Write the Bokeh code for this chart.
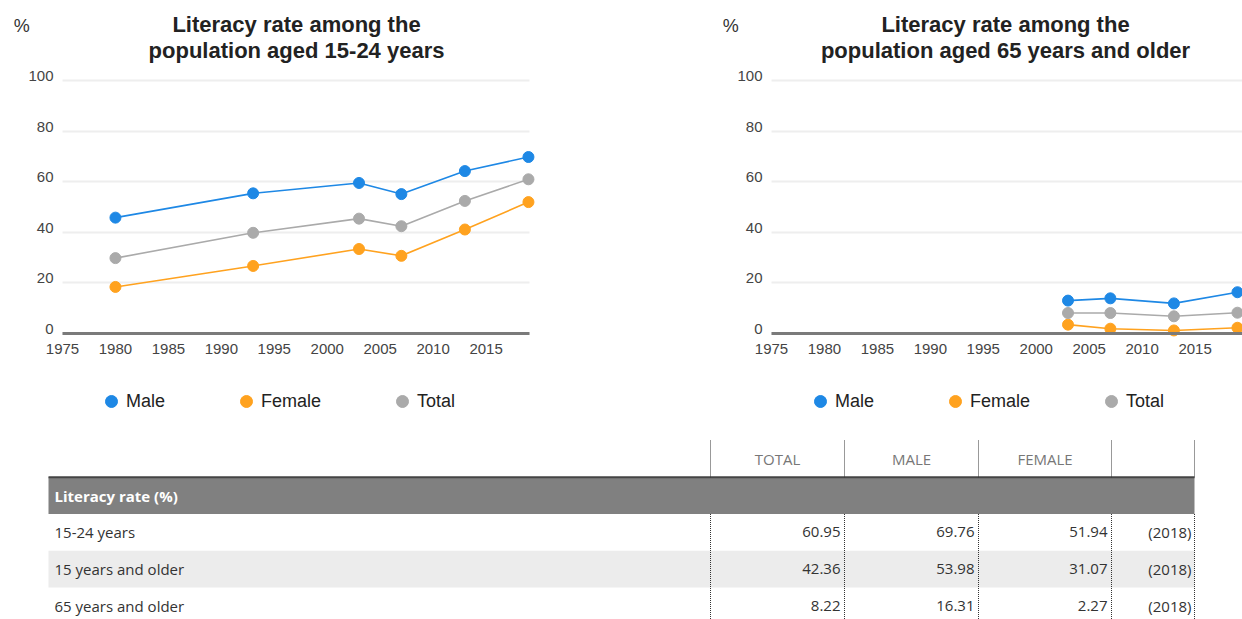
from bokeh.plotting import figure
from bokeh.models import (Range1d, FixedTicker, LinearAxis, Grid, Label, Legend,
                          LegendItem)
from bokeh.layouts import column, row
from bokeh.core.properties import value
from bokeh.embed import file_html
from bokeh.resources import INLINE

# ---------------- data ----------------
years_young = [1980, 1993, 2003, 2007, 2013, 2019]
male_young = [45.8, 55.4, 59.5, 55.1, 64.2, 69.76]
female_young = [18.4, 26.7, 33.4, 30.7, 41.1, 51.94]
total_young = [29.8, 39.8, 45.4, 42.4, 52.4, 60.95]

years_old = [2003, 2007, 2013, 2019]
male_old = [13.0, 13.9, 11.9, 16.31]
female_old = [3.5, 1.9, 1.2, 2.27]
total_old = [8.1, 8.1, 6.8, 8.22]

x_ticks = [1975, 1980, 1985, 1990, 1995, 2000, 2005, 2010, 2015]
y_ticks = [0, 20, 40, 60, 80, 100]
series_names = ["Male", "Female", "Total"]

title_young = ["Literacy rate among the", "population aged 15-24 years"]
title_old = ["Literacy rate among the", "population aged 65 years and older"]

table_title = "Literacy rate (%)"
table_headers = ["TOTAL", "MALE", "FEMALE"]
row_labels = ["15-24 years", "15 years and older", "65 years and older"]
tbl_total = [60.95, 42.36, 8.22]
tbl_male = [69.76, 53.98, 16.31]
tbl_female = [51.94, 31.07, 2.27]
tbl_year = ["(2018)", "(2018)", "(2018)"]

# ---------------- style ----------------
COLORS = ["#1E88E5", "#FFA21F", "#AAAAAA"]
FONT = "Liberation Sans"
PX_PER_YEAR = 467 / 44.1
PX_PER_UNIT = 2.53
FIG_H = 425          # chart figure height (px)
AXIS_PX = 333        # pixel row of the value 0 inside the chart figure
LABEL_SHIFT = 1.8    # y tick labels sit slightly above their grid lines


def make_chart(title_lines, years, series, width, frame_left, plot_end):
    x0 = 1975 - frame_left / PX_PER_YEAR
    x1 = x0 + width / PX_PER_YEAR
    if plot_end is None:
        plot_end = x1
    y0 = -(FIG_H - AXIS_PX) / PX_PER_UNIT
    y1 = AXIS_PX / PX_PER_UNIT
    p = figure(width=width, height=FIG_H,
               x_range=Range1d(x0, x1), y_range=Range1d(y0, y1),
               output_backend="svg", toolbar_location=None,
               x_axis_location=None, y_axis_location=None, min_border=0)
    p.outline_line_color = None
    p.background_fill_color = "white"
    p.border_fill_color = "white"
    p.xgrid.visible = False
    p.ygrid.visible = False

    if "cross_bounds" in Grid.properties():
        grid = Grid(dimension=1, ticker=FixedTicker(ticks=y_ticks),
                    cross_bounds=(1975, plot_end),
                    grid_line_color="#eeeeee", grid_line_width=2)
        p.add_layout(grid)
    else:
        p.segment(x0=[1975] * len(y_ticks), x1=[plot_end] * len(y_ticks),
                  y0=y_ticks, y1=y_ticks, line_color="#eeeeee", line_width=2)

    p.extra_y_ranges = {"lab": Range1d(y0 - LABEL_SHIFT, y1 - LABEL_SHIFT)}
    yax = LinearAxis(y_range_name="lab", ticker=FixedTicker(ticks=y_ticks),
                     fixed_location=1975)
    yax.axis_line_color = None
    yax.major_tick_line_color = None
    yax.minor_tick_line_color = None
    yax.major_tick_out = 0
    yax.major_tick_in = 0
    yax.major_label_standoff = 9
    yax.major_label_text_font = FONT
    yax.major_label_text_font_size = "15px"
    yax.major_label_text_color = "#444444"
    p.add_layout(yax, "left")

    xax = LinearAxis(ticker=FixedTicker(ticks=x_ticks), fixed_location=0,
                     bounds=(1975, plot_end))
    xax.axis_line_color = "#7a7a7a"
    xax.axis_line_width = 3
    xax.major_tick_line_color = None
    xax.minor_tick_line_color = None
    xax.major_tick_out = 0
    xax.major_tick_in = 0
    xax.major_label_standoff = 10
    xax.major_label_text_font = FONT
    xax.major_label_text_font_size = "15px"
    xax.major_label_text_color = "#444444"
    p.add_layout(xax, "below")

    items = []
    for name, vals, color in zip(series_names, series, COLORS):
        p.line(years, vals, line_color=color, line_width=1.6)
        r = p.scatter(years, vals, size=11, fill_color=color, line_color=color)
        items.append(LegendItem(label=name, renderers=[r]))

    legend = Legend(items=items, location=(frame_left + 34, 9),
                    orientation="horizontal",
                    glyph_width=30, glyph_height=30, label_standoff=0,
                    spacing=66, padding=0, margin=0,
                    background_fill_alpha=0, border_line_alpha=0,
                    label_text_font=FONT, label_text_font_size="18px",
                    label_text_color="#222222", label_text_baseline="middle")
    p.add_layout(legend)

    tx = 1997.1
    for ty, line in zip([122.1, 111.9], title_lines):
        p.add_layout(Label(x=tx, y=ty, text=line, text_align="center",
                           text_baseline="middle", text_font=FONT,
                           text_font_size="22px", text_font_style="bold",
                           text_color="#222222"))
    p.add_layout(Label(x=1970.4, y=121.7, text="%", text_align="left",
                       text_baseline="middle", text_font=FONT,
                       text_font_size="18px", text_color="#333333"))
    return p


pl = make_chart(title_young, years_young, [male_young, female_young, total_young],
                width=712, frame_left=62, plot_end=2019.1)
pr = make_chart(title_old, years_old, [male_old, female_old, total_old],
                width=530, frame_left=59, plot_end=None)

# ---------------- table ----------------
col_edges = [48, 710, 844, 978, 1111, 1194]
ROW_PX = 36.75
TABLE_TOP = 425
FIRST_ROW_PX = 440
t_top = -(FIRST_ROW_PX - TABLE_TOP) / ROW_PX
t_bottom = (619 - FIRST_ROW_PX) / ROW_PX
t = figure(width=1242, height=619 - TABLE_TOP, x_range=Range1d(0, 1242),
           y_range=Range1d(t_bottom, t_top), output_backend="svg",
           toolbar_location=None, x_axis_location=None, y_axis_location=None,
           min_border=0)
t.outline_line_color = None
t.xgrid.visible = False
t.ygrid.visible = False

t.quad(left=[col_edges[0]], right=[col_edges[-1]], top=[1], bottom=[2],
       fill_color="#808080", line_color=None)
t.segment(x0=[col_edges[0]], x1=[col_edges[-1]], y0=[1], y1=[1],
          line_color="#444444", line_width=2)
t.quad(left=[col_edges[0]], right=[col_edges[-1]], top=[3], bottom=[4],
       fill_color="#ececec", line_color=None)

vx = col_edges[1:]
t.segment(x0=vx, x1=vx, y0=[0] * len(vx), y1=[1] * len(vx),
          line_color="#333333", line_width=1, line_dash="1 1")
t.segment(x0=vx, x1=vx, y0=[2] * len(vx), y1=[5.5] * len(vx),
          line_color="#333333", line_width=1, line_dash="1 1")

centers = [(col_edges[i] + col_edges[i + 1]) / 2 for i in range(1, 4)]
t.text(x=centers, y=[0.5] * 3, text=table_headers, text_align="center",
       text_baseline="middle", text_font=value("Open Sans"),
       text_font_size="15px", text_color="#777777")
t.text(x=[col_edges[0] + 6], y=[1.5], text=[table_title], text_align="left",
       text_baseline="middle", text_font=value("Open Sans"),
       text_font_size="15px", text_font_style="bold", text_color="white")

row_y = [2.5, 3.5, 4.5]
t.text(x=[col_edges[0] + 6] * 3, y=row_y, text=row_labels, text_align="left",
       text_baseline="middle", text_font=value("Open Sans"),
       text_font_size="15px", text_color="#333333")
for j, vals in enumerate([tbl_total, tbl_male, tbl_female]):
    t.text(x=[col_edges[j + 2] - 4] * 3, y=row_y,
           text=[f"{v:.2f}" for v in vals], text_align="right",
           text_baseline="middle", text_font=value("Open Sans"),
           text_font_size="15px", text_color="#333333")
t.text(x=[col_edges[5] - 3] * 3, y=row_y, text=tbl_year, text_align="right",
       text_baseline="middle", text_font=value("Open Sans"),
       text_font_size="15px", text_color="#333333")

layout = column(row(pl, pr), t)
open("out.html", "w").write(file_html(layout, INLINE))
